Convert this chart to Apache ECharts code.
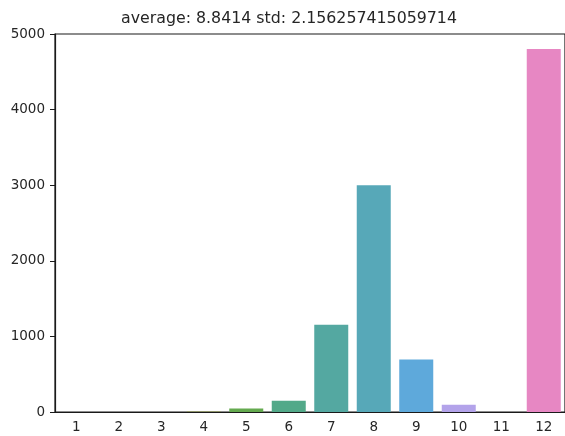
<!DOCTYPE html>
<html>
<head>
<meta charset="utf-8">
<script src="https://cdn.jsdelivr.net/npm/echarts@6/dist/echarts.min.js"></script>
<style>
  html, body { margin: 0; padding: 0; background: #fff; }
  #chart { width: 565px; height: 436px; }
</style>
</head>
<body>
<div id="chart"></div>
<script>
// data
const categories = ["1", "2", "3", "4", "5", "6", "7", "8", "9", "10", "11", "12"];
const counts = [0, 0, 0, 5, 45, 150, 1155, 3000, 695, 97, 0, 4800];
const barColors = ["#e98c9c", "#d48f58", "#b09952", "#95a04e", "#64aa4f", "#52a989",
                   "#54a8a1", "#57a8b8", "#5ea9db", "#b3a3ea", "#dd85e5", "#e787c3"];
const yTicks = [0, 1000, 2000, 3000, 4000, 5000];
const titleText = "average: 8.8414 std: 2.156257415059714";

const chart = echarts.init(document.getElementById("chart"));

const fontFamily = "DejaVu Sans";

const option = {
    animation: false,
    title: {
        text: titleText,
        left: 284,
        top: 6,
        textAlign: "center",
        textStyle: { fontFamily: fontFamily, fontSize: 15.8, fontWeight: "normal", color: "#262626" }
    },
    grid: {
        left: 55, right: -2, top: 34, bottom: 24,
        show: true, borderColor: "#1a1a1a", borderWidth: 1.2
    },
    xAxis: {
        type: "category",
        data: categories,
        axisLine: { lineStyle: { color: "#1a1a1a", width: 1.2 } },
        axisTick: { alignWithLabel: true, length: 5, lineStyle: { color: "#1a1a1a" } },
        axisLabel: { fontFamily: fontFamily, fontSize: 13.5, color: "#262626", margin: 8 }
    },
    yAxis: {
        type: "value",
        min: yTicks[0],
        max: yTicks[yTicks.length - 1],
        interval: 1000,
        splitLine: { show: false },
        axisLine: { show: true, lineStyle: { color: "#1a1a1a", width: 1.2 } },
        axisTick: { show: true, length: 5, lineStyle: { color: "#1a1a1a" } },
        axisLabel: {
            fontFamily: fontFamily, fontSize: 13.5, color: "#262626", margin: 10,
            formatter: function (v) { return String(v); }
        }
    },
    series: [{
        type: "bar",
        barWidth: "80%",
        data: counts.map(function (v, i) {
            return { value: v, itemStyle: { color: barColors[i] } };
        })
    }]
};

chart.setOption(option);
</script>
</body>
</html>
